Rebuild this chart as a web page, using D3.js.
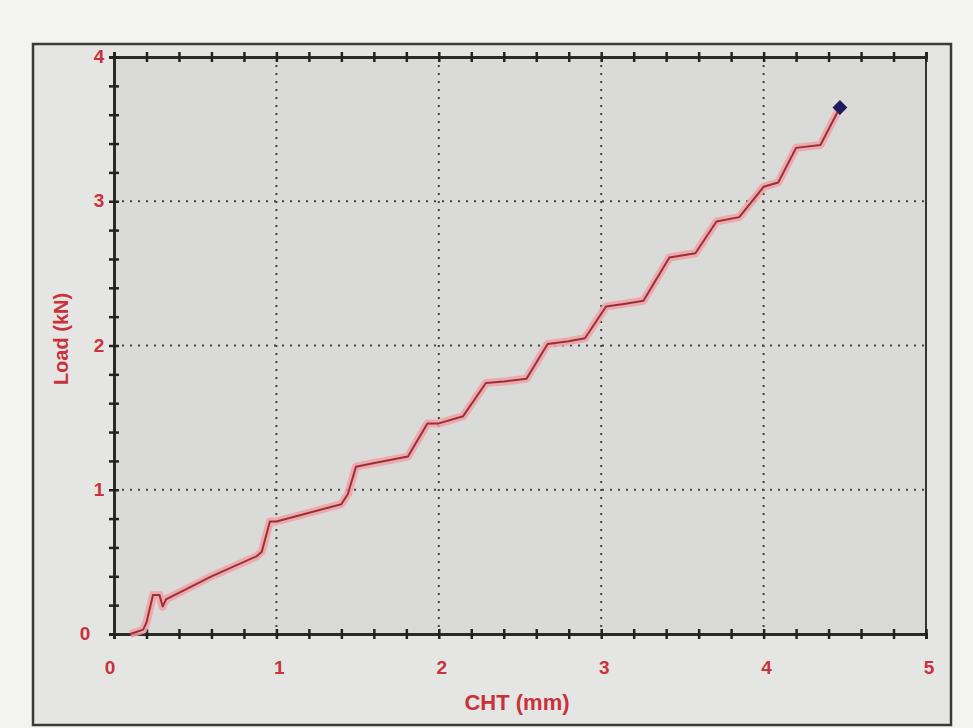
<!DOCTYPE html>
<html>
<head>
<meta charset="utf-8">
<script src="https://cdn.jsdelivr.net/npm/d3@7"></script>
<style>
  html, body { margin: 0; padding: 0; background: #f3f3f1; }
  svg { display: block; }
</style>
</head>
<body>
<div class="chart"></div>
<script>
// CHT (mm) vs Load (kN)
var chtValues = [0.10, 0.18, 0.20, 0.24, 0.28, 0.30, 0.32, 0.60, 0.88, 0.91, 0.96, 1.00,
                 1.40, 1.44, 1.49, 1.58, 1.81, 1.93, 2.00, 2.15, 2.29, 2.40, 2.54, 2.67,
                 2.80, 2.90, 3.03, 3.15, 3.26, 3.42, 3.58, 3.71, 3.85, 4.00, 4.09, 4.20,
                 4.35, 4.47];
var loadValues = [0.00, 0.03, 0.08, 0.27, 0.27, 0.19, 0.24, 0.40, 0.54, 0.57, 0.78, 0.78,
                  0.90, 0.97, 1.16, 1.18, 1.23, 1.46, 1.46, 1.51, 1.74, 1.75, 1.77, 2.01,
                  2.03, 2.05, 2.27, 2.29, 2.31, 2.61, 2.64, 2.86, 2.89, 3.10, 3.13, 3.37,
                  3.39, 3.65];
var xTickLabels = [0, 1, 2, 3, 4, 5];
var yTickLabels = [0, 1, 2, 3, 4];
var xGrid = [1, 2, 3, 4];
var yGrid = [1, 2, 3];

(function() {
    var width = 973;
    var height = 728;
    var left = 114, right = 926, top = 57, bottom = 634;
    var red = '#c8323c';
    var font = '"Liberation Sans", Arial, sans-serif';

    var dataset = chtValues.map(function(d, i) { return { x: d, y: loadValues[i] }; });

    var svg = d3.select('.chart')
        .append('svg')
        .attr('width', width)
        .attr('height', height);

    // outer frame of the printout
    svg.append('rect')
        .attr('x', 33).attr('y', 44)
        .attr('width', 918).attr('height', 681)
        .attr('fill', '#e5e5e3')
        .attr('stroke', '#3a3a3a')
        .attr('stroke-width', 2.5);

    var x = d3.scaleLinear().domain([0, 5]).range([left, right]);
    var y = d3.scaleLinear().domain([0, 4]).range([bottom, top]);

    // plot area
    svg.append('rect')
        .attr('x', left).attr('y', top)
        .attr('width', right - left).attr('height', bottom - top)
        .attr('fill', '#dadad8')
        .attr('stroke', '#333')
        .attr('stroke-width', 2);

    // dotted grid
    svg.selectAll('.vgrid')
        .data(xGrid)
        .enter()
        .append('line')
        .attr('class', 'vgrid')
        .attr('x1', function(d) { return x(d); })
        .attr('x2', function(d) { return x(d); })
        .attr('y1', top).attr('y2', bottom)
        .attr('stroke', '#444')
        .attr('stroke-width', 2)
        .attr('stroke-dasharray', '2,6');
    svg.selectAll('.hgrid')
        .data(yGrid)
        .enter()
        .append('line')
        .attr('class', 'hgrid')
        .attr('y1', function(d) { return y(d); })
        .attr('y2', function(d) { return y(d); })
        .attr('x1', left).attr('x2', right)
        .attr('stroke', '#444')
        .attr('stroke-width', 2)
        .attr('stroke-dasharray', '2,6');

    // ticks every 0.2, crossing the axis line
    var minorX = d3.range(0, 26).map(function(i) { return i * 0.2; });
    var minorY = d3.range(0, 21).map(function(i) { return i * 0.2; });

    var xAxis = svg.append('g')
        .attr('transform', 'translate(0,' + bottom + ')')
        .call(d3.axisBottom(x).tickValues(minorX).tickSize(5).tickFormat(''));
    var xAxisTop = svg.append('g')
        .attr('transform', 'translate(0,' + top + ')')
        .call(d3.axisTop(x).tickValues(minorX).tickSize(5).tickFormat(''));
    var yAxis = svg.append('g')
        .attr('transform', 'translate(' + left + ',0)')
        .call(d3.axisLeft(y).tickValues(minorY).tickSize(5).tickFormat(''));

    [xAxis, xAxisTop].forEach(function(g) {
        g.selectAll('.tick line').attr('y1', -5).attr('y2', 5)
            .attr('stroke', '#222').attr('stroke-width', 2.5);
        g.select('.domain').attr('stroke', '#2a2a2a').attr('stroke-width', 3);
    });
    yAxis.selectAll('.tick line').attr('x1', -5).attr('x2', 5)
        .attr('stroke', '#222').attr('stroke-width', 2.5);
    yAxis.select('.domain').attr('stroke', '#2a2a2a').attr('stroke-width', 3);

    // tick labels
    svg.selectAll('.xlab')
        .data(xTickLabels)
        .enter()
        .append('text')
        .attr('class', 'xlab')
        .attr('x', function(d) { return x(d) + (d === 0 ? -4 : 3); })
        .attr('y', bottom + 40)
        .attr('text-anchor', 'middle')
        .attr('font-family', font)
        .attr('font-size', 19)
        .attr('font-weight', 'bold')
        .attr('fill', red)
        .text(function(d) { return d; });
    svg.selectAll('.ylab')
        .data(yTickLabels)
        .enter()
        .append('text')
        .attr('class', 'ylab')
        .attr('x', function(d) { return d === 0 ? 85 : 99; })
        .attr('y', function(d) { return y(d) + 6; })
        .attr('text-anchor', 'middle')
        .attr('font-family', font)
        .attr('font-size', 19)
        .attr('font-weight', 'bold')
        .attr('fill', red)
        .text(function(d) { return d; });

    // axis titles
    svg.append('text')
        .attr('x', 517)
        .attr('y', 710)
        .attr('text-anchor', 'middle')
        .attr('font-family', font)
        .attr('font-size', 22)
        .attr('font-weight', 'bold')
        .attr('fill', red)
        .text('CHT (mm)');
    svg.append('text')
        .attr('transform', 'translate(68,339) rotate(-90)')
        .attr('text-anchor', 'middle')
        .attr('font-family', font)
        .attr('font-size', 20)
        .attr('font-weight', 'bold')
        .attr('fill', red)
        .text('Load (kN)');

    // curve: pink halo under a thin dark red line
    var line = d3.line()
        .x(function(d) { return x(d.x); })
        .y(function(d) { return y(d.y); });
    svg.append('path')
        .datum(dataset)
        .attr('d', line)
        .attr('fill', 'none')
        .attr('stroke', '#f0a0a4')
        .attr('stroke-opacity', 0.85)
        .attr('stroke-width', 8)
        .attr('stroke-linejoin', 'round');
    svg.append('path')
        .datum(dataset)
        .attr('d', line)
        .attr('fill', 'none')
        .attr('stroke', '#983038')
        .attr('stroke-width', 2)
        .attr('stroke-linejoin', 'round');

    // last point marker
    var last = dataset[dataset.length - 1];
    svg.append('path')
        .attr('d', d3.symbol().type(d3.symbolDiamond2).size(140))
        .attr('transform', 'translate(' + x(last.x) + ',' + y(last.y) + ')')
        .attr('fill', '#1c1c5e');
})();
</script>
</body>
</html>
